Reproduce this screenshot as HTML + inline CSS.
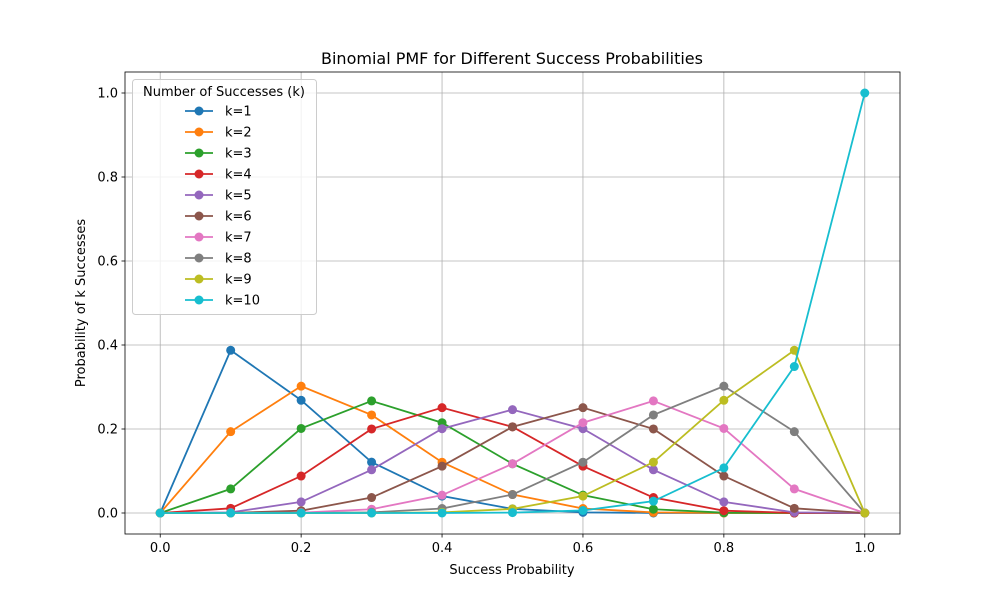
<!DOCTYPE html>
<html><head><meta charset="utf-8"><style>
html,body{margin:0;padding:0;background:#fff;}
svg text{font-family:"DejaVu Sans","Liberation Sans",sans-serif;fill:#000;}
</style></head><body>
<svg id="s" width="1000" height="600" xmlns="http://www.w3.org/2000/svg"></svg>
<script>
const s=document.getElementById('s');
const L=125,R=900,T=72,B=534;
const X=v=>L+(v+0.05)/1.1*(R-L);
const Y=v=>B-(v+0.05)/1.1*(B-T);
let h='<rect x="0" y="0" width="1000" height="600" fill="#fff"/>';
const ticks=[0,0.2,0.4,0.6,0.8,1.0];
for(const t of ticks){
 h+=`<line x1="${X(t)}" y1="${T}" x2="${X(t)}" y2="${B}" stroke="#b0b0b0" stroke-width="0.8"/>`;
 h+=`<line x1="${L}" y1="${Y(t)}" x2="${R}" y2="${Y(t)}" stroke="#b0b0b0" stroke-width="0.8"/>`;
 h+=`<line x1="${X(t)}" y1="${B}" x2="${X(t)}" y2="${B+3.5}" stroke="#000" stroke-width="0.8"/>`;
 h+=`<text x="${X(t)}" y="${B+18}" font-size="13" text-anchor="middle">${t.toFixed(1)}</text>`;
 h+=`<line x1="${L-3.5}" y1="${Y(t)}" x2="${L}" y2="${Y(t)}" stroke="#000" stroke-width="0.8"/>`;
 h+=`<text x="${L-7}" y="${Y(t)+4.5}" font-size="13" text-anchor="end">${t.toFixed(1)}</text>`;
}
const C=['#1f77b4','#ff7f0e','#2ca02c','#d62728','#9467bd','#8c564b','#e377c2','#7f7f7f','#bcbd22','#17becf'];
function comb(n,k){let r=1;for(let i=1;i<=k;i++)r=r*(n-k+i)/i;return r;}
for(let k=1;k<=10;k++){
 let pts=[];
 for(let i=0;i<=10;i++){const p=i/10;pts.push([X(p),Y(comb(10,k)*Math.pow(p,k)*Math.pow(1-p,10-k))]);}
 h+=`<polyline fill="none" stroke="${C[k-1]}" stroke-width="1.8" points="${pts.map(q=>q.join(',')).join(' ')}"/>`;
 for(const q of pts)h+=`<circle cx="${q[0]}" cy="${q[1]}" r="4.5" fill="${C[k-1]}"/>`;
}
h+=`<rect x="${L}" y="${T}" width="${R-L}" height="${B-T}" fill="none" stroke="#000" stroke-width="0.8"/>`;
h+=`<text x="512" y="64" font-size="16" text-anchor="middle">Binomial PMF for Different Success Probabilities</text>`;
h+=`<text x="512" y="574" font-size="13" text-anchor="middle">Success Probability</text>`;
h+=`<text transform="translate(85,303) rotate(-90)" font-size="13" text-anchor="middle">Probability of k Successes</text>`;
h+=`<rect x="132.5" y="79.5" width="184" height="235" rx="3" fill="#fff" fill-opacity="0.8" stroke="#ccc"/>`;
h+=`<text x="224" y="96" font-size="13" text-anchor="middle">Number of Successes (k)</text>`;
for(let k=1;k<=10;k++){
 const y=111+(k-1)*21;
 h+=`<line x1="185" y1="${y}" x2="213" y2="${y}" stroke="${C[k-1]}" stroke-width="1.8"/><circle cx="199" cy="${y}" r="4.5" fill="${C[k-1]}"/>`;
 h+=`<text x="225" y="${y+4.5}" font-size="13">k=${k}</text>`;
}
s.innerHTML=h;
</script>
</body></html>
